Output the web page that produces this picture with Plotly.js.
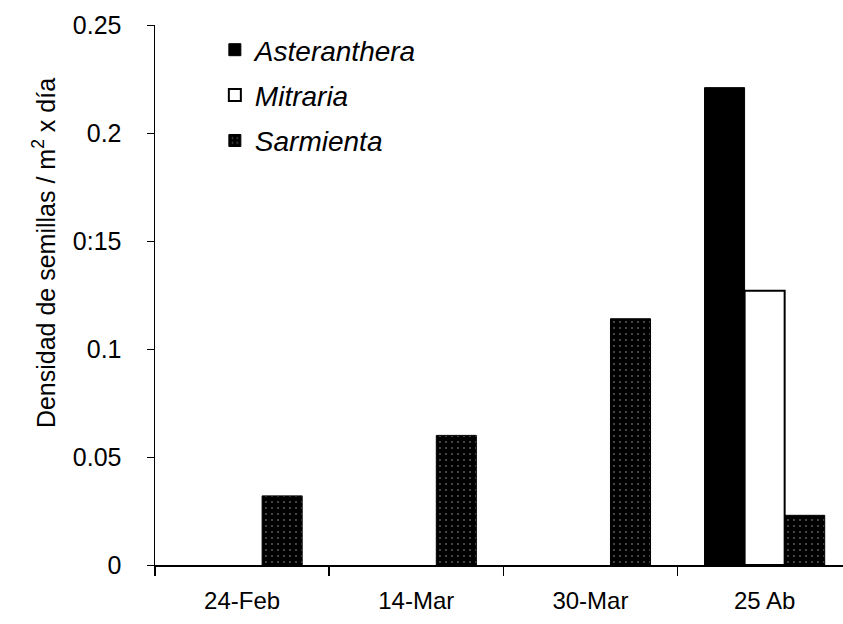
<!DOCTYPE html>
<html>
<head>
<meta charset="utf-8">
<script src="https://cdn.plot.ly/plotly-3.0.1.min.js"></script>
<style>html,body{margin:0;padding:0;background:#fff;overflow:hidden;}</style>
</head>
<body>
<div id="chart" style="width:843px;height:624px;"></div>
<script>
const categories = ["24-Feb", "14-Mar", "30-Mar", "25 Ab"];
const asteranthera = [null, null, null, 0.221];
const mitraria = [null, null, null, 0.127];
const sarmienta = [0.032, 0.06, 0.114, 0.023];
const yTickVals = [0, 0.05, 0.1, 0.15, 0.2, 0.25];
const yTickText = ["0", "0.05", "0.1", "0:15", "0.2", "0.25"];
const yTitle = "Densidad de semillas / m<sup>2</sup> x día";

const lineBlack = {color: "#000", width: 1};
const traces = [
  {type: "bar", name: "Asteranthera", x: categories, y: asteranthera, legendgroup: "a",
   marker: {color: "#000", line: lineBlack}},
  {type: "bar", name: "Mitraria", x: categories, y: mitraria, legendgroup: "m",
   marker: {color: "#fff", line: {color: "#000", width: 2}}},
  {type: "bar", name: "Sarmienta", x: categories, y: sarmienta, legendgroup: "s",
   marker: {color: "#000", line: lineBlack,
            pattern: {shape: ".", bgcolor: "#000", fgcolor: "#555", size: 6, solidity: 0.1}}}
];

const layout = {
  width: 843, height: 624,
  margin: {l: 155, r: 0, t: 25, b: 59},
  paper_bgcolor: "#fff", plot_bgcolor: "#fff",
  barmode: "group", bargap: 0.31, bargroupgap: 0,
  font: {family: "'Liberation Sans', Arial, sans-serif", color: "#000"},
  showlegend: true,
  legend: {x: 0.087, y: 1.0, xanchor: "left", yanchor: "top",
           traceorder: "grouped", tracegroupgap: 6,
           font: {size: 28, style: "italic", color: "#000"},
           bgcolor: "rgba(0,0,0,0)", itemwidth: 30},
  xaxis: {type: "category", range: [-0.5, 3.45], showline: true, linecolor: "#000", linewidth: 1.5,
          ticks: "outside", tickson: "boundaries", ticklen: 9, tickcolor: "#000", tickwidth: 1.5,
          ticklabelstandoff: 14,
          tickfont: {size: 24}, showgrid: false, zeroline: false, fixedrange: true},
  yaxis: {range: [0, 0.25], showline: true, linecolor: "#000", linewidth: 1.5,
          ticks: "outside", ticklen: 7, tickcolor: "#000", tickwidth: 1,
          tickvals: yTickVals, ticktext: yTickText, ticklabelstandoff: 20,
          tickfont: {size: 25}, showgrid: false, zeroline: false},
  annotations: [{text: yTitle, xref: "paper", yref: "paper", x: -0.161, y: 0.578,
                 xanchor: "center", yanchor: "middle", textangle: -90, showarrow: false,
                 font: {size: 25, color: "#000"}}]
};

Plotly.newPlot("chart", traces, layout, {displayModeBar: false, staticPlot: true});
</script>
</body>
</html>
